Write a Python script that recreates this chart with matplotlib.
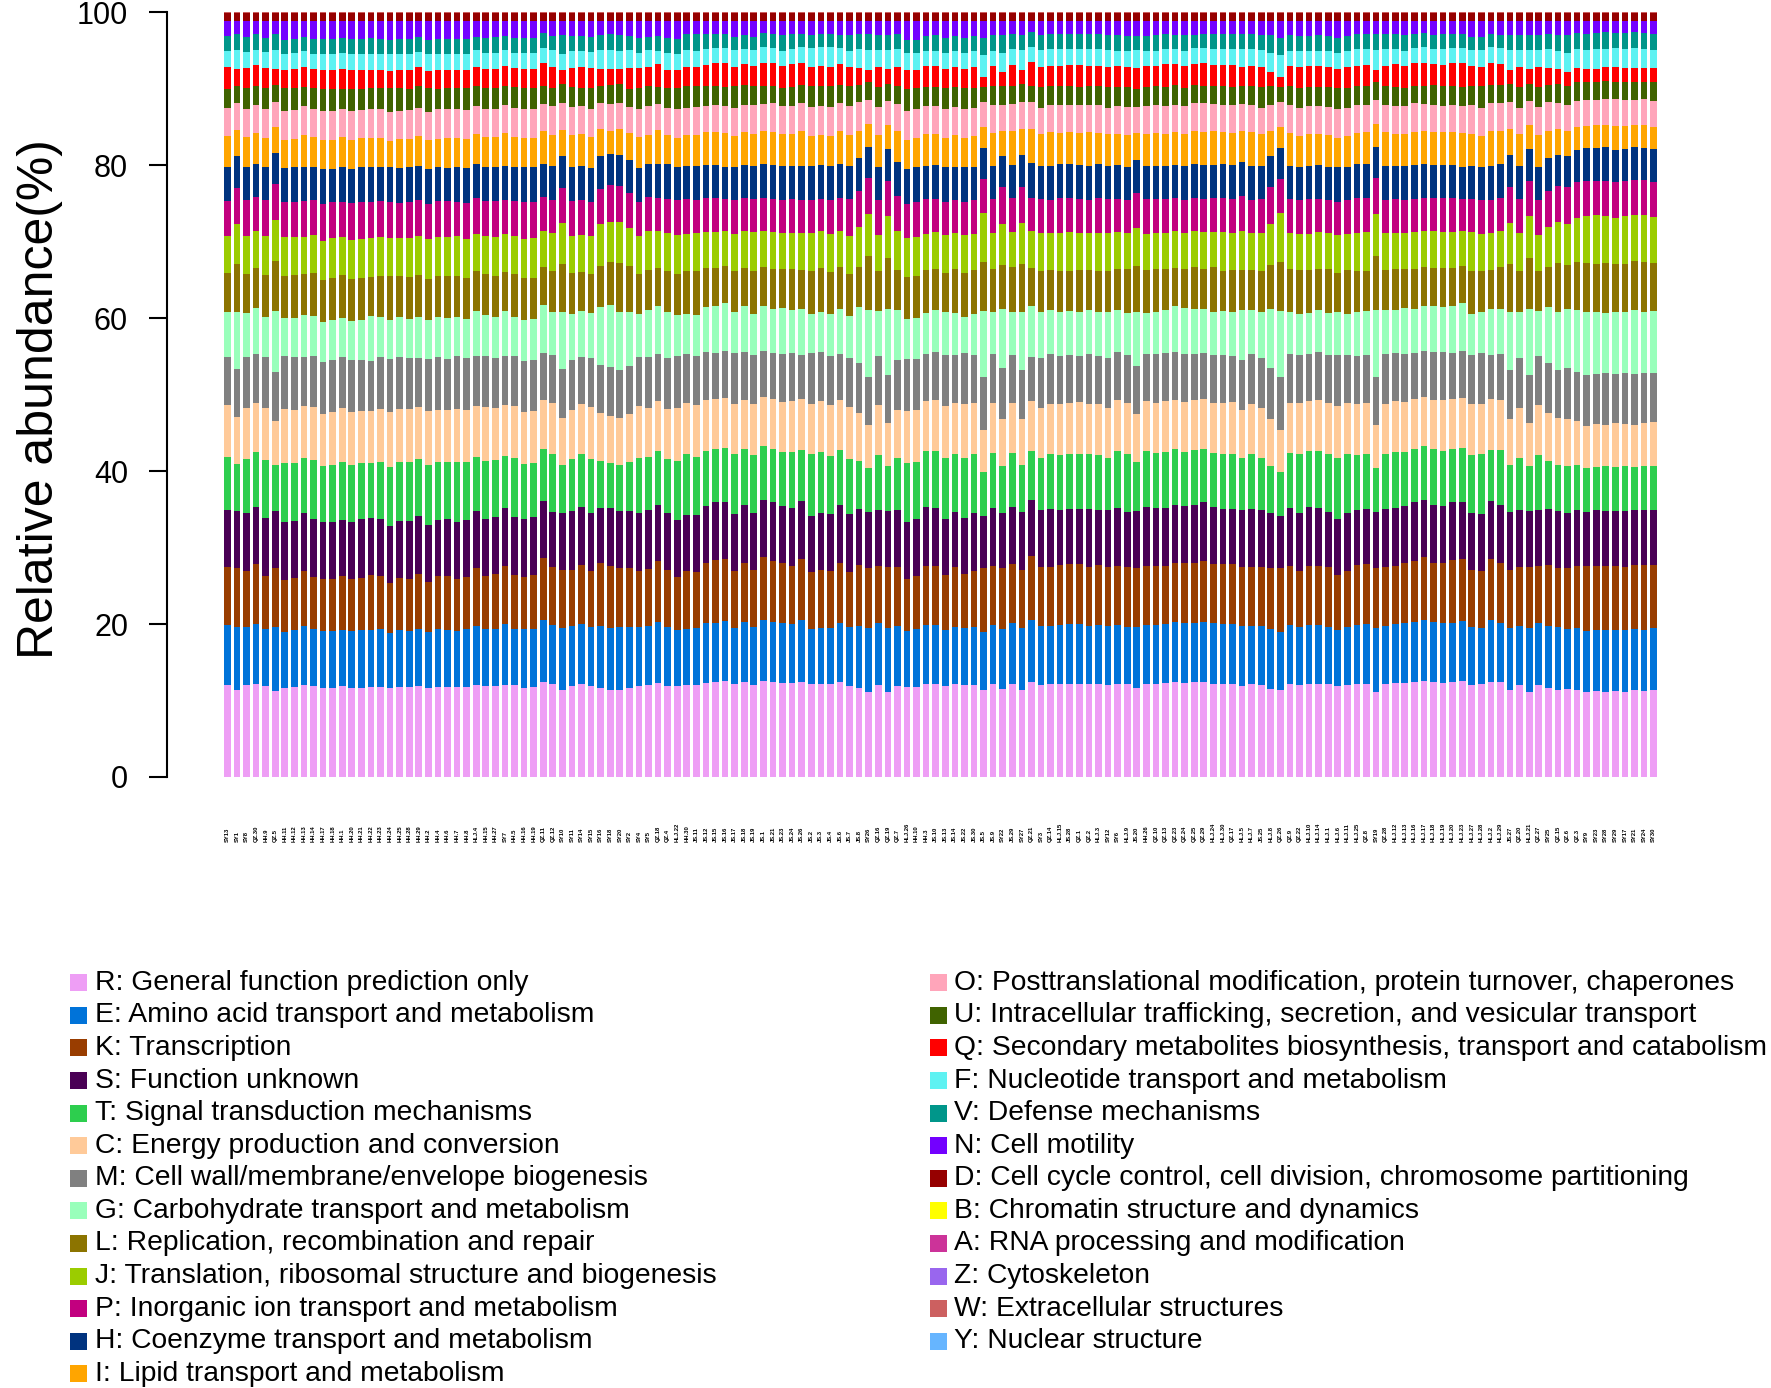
import numpy as np
import matplotlib
matplotlib.use("Agg")
import matplotlib.pyplot as plt
from matplotlib.patches import Rectangle

plt.rcParams["font.family"] = ["Liberation Sans", "DejaVu Sans"]

W, H = 1771, 1388

samples = [
    "SY13", "SY1", "SY8", "QZ.30", "HH.9", "QZ.5", "HH.11", "HH.12", "HH.13", "HH.14",
    "HH.17", "HH.18", "HH.1", "HH.20", "HH.21", "HH.22", "HH.23", "HH.24", "HH.25", "HH.28",
    "HH.29", "HH.2", "HH.4", "HH.6", "HH.7", "HH.8", "HLJ.4", "HH.15", "HH.27", "SY7",
    "HH.5", "HH.16", "HH.19", "QZ.11", "QZ.12", "SY10", "SY11", "SY14", "SY15", "SY16",
    "SY18", "SY20", "SY2", "SY4", "SY5", "QZ.18", "QZ.4", "HLJ.22", "HH.30", "JS.11",
    "JS.12", "JS.15", "JS.16", "JS.17", "JS.18", "JS.19", "JS.1", "JS.21", "JS.23", "JS.24",
    "JS.26", "JS.2", "JS.3", "JS.4", "JS.6", "JS.7", "JS.8", "SY26", "QZ.16", "QZ.19",
    "QZ.7", "HLJ.26", "HH.10", "HH.3", "JS.10", "JS.13", "JS.14", "JS.22", "JS.30", "JS.5",
    "JS.9", "SY22", "JS.29", "SY27", "QZ.21", "SY3", "QZ.14", "HLJ.15", "JS.28", "QZ.1",
    "QZ.2", "HLJ.3", "SY12", "SY6", "HLJ.9", "JS.20", "HH.26", "QZ.10", "QZ.13", "QZ.23",
    "QZ.24", "QZ.25", "QZ.29", "HLJ.24", "HLJ.30", "QZ.17", "HLJ.5", "HLJ.7", "JS.25", "HLJ.8",
    "QZ.26", "QZ.9", "QZ.22", "HLJ.10", "HLJ.14", "HLJ.1", "HLJ.6", "HLJ.11", "HLJ.25", "QZ.8",
    "SY19", "QZ.28", "HLJ.12", "HLJ.13", "HLJ.16", "HLJ.17", "HLJ.18", "HLJ.19", "HLJ.20", "HLJ.23",
    "HLJ.27", "HLJ.28", "HLJ.2", "HLJ.29", "JS.27", "QZ.20", "HLJ.21", "QZ.27", "SY25", "QZ.15",
    "QZ.6", "QZ.3", "SY9", "SY23", "SY28", "SY29", "SY17", "SY21", "SY24", "SY30",
]

# relative abundance (%) of each COG category, one value per sample
R = [12.1, 11.4, 12.0, 12.2, 11.9, 11.3, 11.7, 11.8, 12.0, 11.9, 11.6, 11.7, 11.9, 11.7, 11.7, 11.8, 11.8, 11.7, 11.8, 11.8,
     11.9, 11.6, 11.8, 11.8, 11.8, 11.8, 12.0, 11.9, 11.9, 12.1, 12.0, 11.7, 11.8, 12.4, 12.1, 11.4, 11.9, 12.1, 11.9, 11.7,
     11.4, 11.4, 11.7, 11.9, 12.0, 12.3, 11.9, 11.9, 12.1, 12.0, 12.3, 12.4, 12.6, 12.2, 12.4, 12.1, 12.6, 12.4, 12.3, 12.3,
     12.4, 12.1, 12.2, 12.1, 12.4, 11.9, 11.7, 11.1, 12.1, 11.2, 11.9, 11.8, 11.8, 12.2, 12.2, 11.9, 12.1, 12.1, 12.1, 11.4,
     12.2, 11.5, 12.2, 11.4, 12.4, 12.0, 12.2, 12.2, 12.1, 12.1, 12.2, 12.2, 12.0, 12.2, 12.1, 11.7, 12.2, 12.2, 12.3, 12.4,
     12.3, 12.4, 12.4, 12.2, 12.1, 12.1, 11.9, 12.2, 12.0, 11.5, 11.4, 12.2, 12.1, 12.2, 12.2, 12.1, 11.9, 12.1, 12.2, 12.1,
     11.1, 12.2, 12.3, 12.3, 12.4, 12.6, 12.4, 12.3, 12.4, 12.6, 12.1, 12.2, 12.4, 12.4, 11.4, 12.0, 11.2, 12.1, 11.7, 11.4,
     11.5, 11.4, 11.2, 11.3, 11.1, 11.3, 11.2, 11.4, 11.3, 11.4]
E = [7.8, 8.2, 7.6, 7.8, 7.4, 8.3, 7.3, 7.5, 7.7, 7.4, 7.5, 7.4, 7.4, 7.4, 7.6, 7.5, 7.5, 7.1, 7.5, 7.3,
     7.5, 7.4, 7.5, 7.4, 7.3, 7.5, 7.8, 7.4, 7.5, 8.0, 7.3, 7.6, 7.6, 8.1, 7.8, 8.1, 7.8, 7.9, 7.7, 8.1,
     8.1, 8.2, 8.0, 7.7, 7.7, 7.9, 7.7, 7.3, 7.3, 7.5, 7.8, 7.8, 7.8, 7.3, 7.8, 7.5, 7.9, 7.9, 7.8, 7.8,
     8.2, 7.3, 7.3, 7.4, 7.7, 7.7, 8.0, 8.4, 8.1, 8.3, 7.8, 7.3, 7.5, 7.6, 7.7, 7.4, 7.5, 7.5, 7.5, 7.5,
     7.6, 7.9, 7.9, 8.1, 8.2, 7.8, 7.6, 7.7, 7.9, 7.9, 7.6, 7.7, 7.8, 7.7, 7.5, 8.0, 7.6, 7.6, 7.8, 7.8,
     7.8, 7.7, 7.9, 7.9, 7.9, 7.9, 7.8, 7.6, 7.8, 7.9, 7.5, 7.6, 7.5, 7.6, 7.7, 7.5, 7.4, 7.5, 7.7, 7.9,
     8.4, 7.6, 7.8, 7.8, 7.9, 7.9, 7.8, 7.8, 7.8, 7.8, 7.5, 7.3, 8.2, 7.7, 8.1, 7.8, 8.3, 8.1, 8.0, 8.2,
     7.9, 8.1, 8.0, 7.9, 8.1, 7.9, 8.1, 8.0, 8.0, 8.1]
K = [7.6, 7.7, 7.4, 7.8, 7.0, 7.8, 6.8, 6.8, 7.2, 6.9, 6.8, 6.8, 7.0, 6.8, 6.8, 7.1, 6.9, 6.6, 6.8, 6.8,
     7.2, 6.5, 6.9, 7.0, 6.8, 6.8, 7.6, 6.9, 7.1, 7.6, 7.1, 6.8, 7.0, 8.1, 7.5, 7.6, 7.4, 7.7, 7.3, 8.2,
     8.2, 7.7, 7.7, 7.4, 7.5, 8.0, 7.5, 7.0, 7.5, 7.3, 7.8, 8.2, 8.1, 7.4, 7.8, 7.5, 8.3, 8.0, 7.8, 7.6,
     8.0, 7.4, 7.5, 7.4, 7.9, 7.2, 8.0, 7.9, 7.4, 8.1, 7.8, 6.8, 6.9, 7.8, 7.7, 7.1, 7.8, 7.1, 7.4, 8.4,
     7.8, 7.9, 7.8, 7.6, 8.4, 7.7, 7.7, 7.8, 7.8, 7.8, 7.7, 7.8, 7.7, 7.7, 7.8, 7.7, 7.8, 7.8, 7.6, 7.8,
     7.8, 7.9, 8.0, 7.8, 7.8, 7.8, 7.8, 7.7, 7.7, 7.9, 8.4, 7.8, 7.4, 7.8, 7.7, 7.8, 7.1, 7.4, 7.8, 7.8,
     7.9, 7.7, 7.6, 7.8, 8.0, 8.3, 7.8, 7.8, 8.2, 8.1, 7.5, 7.4, 8.0, 7.9, 7.6, 7.7, 8.1, 7.4, 8.0, 7.7,
     7.9, 8.2, 8.5, 8.4, 8.5, 8.4, 8.3, 8.4, 8.5, 8.3]
S = [7.5, 7.5, 7.5, 7.5, 7.6, 7.5, 7.6, 7.5, 7.6, 7.5, 7.5, 7.5, 7.4, 7.5, 7.7, 7.5, 7.5, 7.4, 7.5, 7.5,
     7.5, 7.5, 7.4, 7.5, 7.5, 7.5, 7.5, 7.5, 7.5, 7.5, 7.6, 7.7, 7.6, 7.5, 7.3, 7.4, 7.6, 7.6, 7.7, 7.3,
     7.5, 7.4, 7.5, 7.5, 7.7, 7.3, 7.5, 7.4, 7.4, 7.5, 7.5, 7.5, 7.5, 7.5, 7.5, 7.5, 7.5, 7.6, 7.5, 7.5,
     7.6, 7.3, 7.4, 7.5, 7.5, 7.6, 7.3, 7.3, 7.4, 7.3, 7.4, 7.5, 7.5, 7.6, 7.6, 7.4, 7.3, 7.4, 7.5, 6.8,
     7.5, 7.2, 7.5, 7.5, 7.3, 7.4, 7.5, 7.3, 7.3, 7.2, 7.5, 7.3, 7.4, 7.6, 7.3, 7.5, 7.6, 7.5, 7.5, 7.5,
     7.5, 7.5, 7.6, 7.5, 7.3, 7.2, 7.4, 7.5, 7.4, 7.2, 6.8, 7.5, 7.5, 7.6, 7.6, 7.3, 7.4, 7.5, 7.3, 7.3,
     7.3, 7.5, 7.5, 7.5, 7.6, 7.5, 7.5, 7.5, 7.5, 7.5, 7.5, 7.5, 7.6, 7.5, 7.5, 7.4, 7.3, 7.4, 7.3, 7.4,
     7.2, 7.3, 7.1, 7.3, 7.2, 7.2, 7.3, 7.1, 7.2, 7.2]
T = [6.9, 6.2, 7.1, 7.1, 7.5, 6.0, 7.8, 7.5, 7.2, 7.8, 7.3, 7.5, 7.6, 7.5, 7.3, 7.2, 7.5, 7.8, 7.7, 7.7,
     7.5, 7.8, 7.5, 7.5, 7.8, 7.5, 7.0, 7.6, 7.4, 6.8, 7.7, 7.1, 7.1, 6.8, 7.5, 6.3, 6.8, 6.9, 7.0, 6.1,
     6.0, 6.1, 6.4, 7.2, 7.0, 7.0, 7.0, 7.7, 8.0, 7.6, 7.2, 7.0, 7.1, 7.8, 7.3, 7.6, 7.0, 7.0, 7.1, 7.4,
     6.7, 8.1, 8.0, 7.6, 7.2, 7.2, 6.3, 5.8, 7.2, 5.9, 6.8, 7.7, 7.5, 7.4, 7.4, 7.9, 7.5, 7.8, 7.8, 5.8,
     7.2, 6.2, 7.0, 6.2, 6.4, 6.9, 7.3, 7.2, 7.2, 7.1, 7.3, 7.2, 6.9, 7.4, 7.5, 6.4, 7.4, 7.2, 7.4, 7.3,
     7.1, 7.2, 7.0, 7.0, 7.2, 7.1, 6.8, 7.3, 6.9, 6.2, 5.8, 7.2, 7.8, 7.4, 7.4, 7.5, 7.9, 7.8, 7.2, 7.2,
     5.8, 7.3, 7.4, 7.1, 7.0, 7.0, 7.3, 7.2, 7.0, 7.1, 7.6, 7.8, 6.7, 7.2, 6.2, 6.9, 5.9, 7.2, 6.3, 6.1,
     6.2, 5.9, 5.8, 5.7, 5.8, 5.8, 5.9, 5.7, 5.8, 5.8]
C = [6.8, 6.1, 6.7, 6.4, 6.8, 5.8, 7.0, 7.0, 6.7, 6.9, 6.8, 6.9, 7.0, 6.9, 6.8, 6.8, 6.9, 7.1, 7.0, 7.0,
     6.8, 7.1, 6.9, 6.8, 7.0, 6.9, 6.7, 7.0, 6.8, 6.7, 6.8, 6.8, 6.7, 6.5, 6.7, 6.1, 6.5, 6.5, 6.8, 6.3,
     6.1, 6.1, 6.2, 6.8, 6.4, 6.6, 6.6, 6.9, 6.6, 6.7, 6.6, 6.5, 6.5, 6.6, 6.5, 6.6, 6.5, 6.5, 6.5, 6.6,
     6.7, 6.6, 6.7, 6.6, 6.6, 6.8, 6.3, 5.6, 6.5, 5.7, 6.4, 6.9, 6.8, 6.5, 6.7, 6.8, 6.7, 7.1, 6.6, 5.5,
     6.6, 6.1, 6.5, 6.0, 6.5, 6.5, 6.5, 6.6, 6.6, 6.8, 6.5, 6.6, 6.5, 6.7, 6.7, 6.2, 6.5, 6.6, 6.6, 6.5,
     6.5, 6.6, 6.5, 6.5, 6.6, 6.8, 6.4, 6.5, 6.5, 6.1, 5.5, 6.6, 6.6, 6.5, 6.7, 6.7, 6.8, 6.6, 6.6, 6.6,
     5.6, 6.5, 6.6, 6.5, 6.5, 6.5, 6.5, 6.6, 6.5, 6.5, 6.6, 6.6, 6.7, 6.6, 6.0, 6.5, 5.7, 6.5, 6.3, 6.1,
     6.1, 5.8, 5.5, 5.6, 5.4, 5.7, 5.6, 5.5, 5.6, 5.7]
M = [6.3, 6.3, 6.6, 6.4, 6.7, 6.3, 6.9, 6.9, 6.5, 6.7, 6.8, 6.8, 6.7, 6.8, 6.7, 6.6, 6.8, 7.0, 6.8, 6.6,
     6.4, 6.8, 6.8, 6.6, 6.9, 6.7, 6.5, 6.7, 6.6, 6.4, 6.5, 6.7, 6.7, 6.1, 6.3, 6.4, 6.5, 6.2, 6.5, 6.3,
     6.4, 6.3, 6.4, 6.4, 6.6, 6.1, 6.7, 6.8, 6.5, 6.4, 6.3, 6.1, 6.2, 6.6, 6.2, 6.4, 5.9, 6.0, 6.2, 6.3,
     5.8, 6.6, 6.4, 6.5, 6.0, 6.5, 6.6, 6.3, 6.4, 6.3, 6.5, 6.8, 6.6, 6.1, 6.2, 6.7, 6.3, 6.7, 6.4, 6.9,
     6.4, 6.7, 6.3, 6.4, 5.8, 6.5, 6.5, 6.3, 6.3, 6.1, 6.5, 6.3, 6.5, 6.2, 6.3, 6.4, 6.1, 6.4, 6.3, 6.2,
     6.2, 6.0, 6.0, 6.3, 6.3, 6.1, 6.5, 6.5, 6.5, 6.7, 6.9, 6.4, 6.4, 6.1, 6.2, 6.3, 6.7, 6.4, 6.3, 6.3,
     6.3, 6.5, 6.3, 6.2, 6.0, 5.9, 6.2, 6.3, 6.1, 6.2, 6.4, 6.6, 5.8, 6.0, 6.4, 6.5, 6.3, 6.4, 6.6, 6.3,
     6.7, 6.4, 6.7, 6.6, 6.8, 6.5, 6.6, 6.7, 6.6, 6.5]
G = [5.9, 7.5, 5.8, 6.0, 5.2, 8.1, 5.0, 5.1, 5.4, 5.2, 5.2, 5.2, 5.2, 5.2, 5.3, 5.8, 5.2, 5.0, 5.2, 5.1,
     5.4, 5.0, 5.3, 5.4, 5.1, 5.1, 6.0, 5.3, 5.3, 6.0, 5.1, 5.4, 5.4, 6.3, 5.6, 7.5, 6.0, 6.0, 5.8, 7.6,
     8.2, 7.6, 7.0, 5.6, 6.2, 6.3, 6.0, 5.4, 5.2, 5.4, 5.9, 6.1, 6.2, 5.4, 6.0, 5.4, 5.9, 5.8, 6.1, 5.7,
     6.0, 5.1, 5.2, 5.4, 5.8, 5.5, 7.2, 8.8, 5.9, 8.6, 6.5, 5.2, 5.3, 5.4, 5.5, 5.7, 5.5, 4.8, 5.3, 8.6,
     5.5, 7.8, 5.6, 7.6, 6.7, 6.1, 5.8, 5.7, 5.7, 5.7, 5.8, 5.7, 6.1, 5.5, 5.5, 7.0, 5.4, 5.5, 5.7, 6.0,
     6.1, 5.8, 5.8, 5.6, 5.7, 5.7, 6.5, 5.8, 6.1, 7.8, 8.6, 5.5, 5.3, 5.4, 5.5, 5.5, 5.7, 5.3, 5.7, 5.7,
     8.8, 5.8, 5.7, 6.1, 5.8, 5.9, 6.0, 5.9, 6.1, 6.2, 5.4, 5.4, 6.0, 5.8, 7.6, 6.1, 8.6, 5.9, 7.2, 7.6,
     7.8, 8.1, 8.2, 8.0, 7.9, 8.1, 8.0, 8.3, 8.0, 8.1]
L = [5.1, 6.3, 5.1, 5.2, 5.6, 6.5, 5.5, 5.7, 5.4, 5.6, 5.5, 5.5, 5.6, 5.5, 5.5, 5.1, 5.4, 5.8, 5.4, 5.5,
     5.5, 5.4, 5.4, 5.5, 5.4, 5.4, 5.2, 5.4, 5.4, 5.1, 5.6, 5.4, 5.4, 5.0, 5.4, 6.3, 5.3, 5.1, 5.1, 5.4,
     5.6, 6.3, 6.1, 5.3, 5.2, 4.9, 5.4, 5.4, 5.6, 5.8, 5.1, 5.0, 4.9, 5.4, 5.0, 5.6, 5.2, 5.2, 5.1, 5.4,
     5.1, 5.7, 5.7, 5.5, 5.5, 5.4, 5.3, 7.0, 5.2, 6.8, 5.3, 5.5, 5.5, 5.6, 5.4, 5.1, 5.7, 5.7, 5.8, 6.5,
     5.5, 5.7, 5.9, 6.3, 5.0, 5.3, 5.2, 5.4, 5.3, 5.4, 5.2, 5.4, 5.3, 5.4, 5.7, 6.1, 5.6, 5.5, 5.4, 5.0,
     5.1, 5.5, 5.2, 5.9, 5.3, 5.4, 5.3, 5.2, 5.3, 5.7, 6.5, 5.5, 5.8, 5.6, 5.4, 5.7, 5.1, 5.8, 5.4, 5.3,
     7.0, 5.2, 5.4, 5.1, 5.2, 5.2, 5.0, 5.1, 5.0, 4.9, 5.6, 5.4, 5.1, 5.5, 6.3, 5.3, 6.8, 5.2, 5.3, 6.3,
     5.7, 6.3, 6.5, 6.4, 6.6, 6.3, 6.4, 6.4, 6.5, 6.3]
J = [4.9, 5.2, 5.0, 4.8, 5.1, 5.4, 5.1, 4.9, 4.9, 5.0, 5.2, 5.2, 5.0, 5.1, 5.1, 5.1, 5.1, 5.0, 5.0, 5.1,
     5.0, 5.2, 5.1, 5.1, 5.2, 5.1, 4.9, 5.0, 5.1, 4.9, 5.0, 5.2, 5.2, 4.7, 4.9, 5.3, 4.9, 4.8, 5.0, 5.4,
     5.2, 5.4, 4.9, 4.9, 5.1, 4.8, 5.0, 5.1, 4.9, 4.9, 4.7, 4.7, 4.6, 4.8, 4.8, 5.1, 4.7, 4.8, 4.7, 4.7,
     4.8, 4.9, 4.8, 5.0, 4.7, 5.0, 5.2, 5.6, 4.8, 5.4, 5.1, 5.1, 5.1, 4.7, 4.8, 4.9, 4.7, 5.0, 4.7, 6.4,
     4.8, 5.4, 4.7, 5.4, 4.8, 5.0, 4.8, 5.0, 5.1, 4.9, 4.8, 5.0, 5.0, 4.8, 4.7, 4.9, 4.7, 4.8, 4.7, 4.8,
     4.7, 4.7, 4.8, 4.7, 5.1, 4.9, 5.1, 4.8, 5.0, 5.4, 6.4, 4.8, 4.7, 4.7, 4.8, 4.7, 4.9, 4.7, 5.0, 5.1,
     5.6, 4.8, 4.7, 4.7, 4.8, 4.7, 4.8, 4.7, 4.7, 4.6, 5.1, 4.8, 4.8, 4.7, 5.4, 5.0, 5.4, 4.8, 5.2, 5.4,
     5.4, 5.8, 6.2, 6.3, 6.1, 6.0, 6.2, 6.1, 6.2, 6.0]
P = [4.6, 4.7, 4.6, 4.5, 4.6, 4.7, 4.6, 4.6, 4.7, 4.5, 4.8, 4.7, 4.5, 4.8, 4.8, 4.7, 4.6, 4.7, 4.6, 4.7,
     4.8, 4.6, 4.6, 4.6, 4.5, 4.7, 4.6, 4.5, 4.7, 4.5, 4.5, 4.8, 4.7, 4.4, 4.4, 4.6, 4.6, 4.6, 4.5, 4.6,
     4.8, 4.7, 4.6, 4.5, 4.4, 4.4, 4.4, 4.5, 4.5, 4.4, 4.4, 4.4, 4.2, 4.4, 4.3, 4.3, 4.3, 4.4, 4.3, 4.4,
     4.4, 4.4, 4.2, 4.5, 4.4, 4.8, 4.7, 4.7, 4.5, 4.7, 4.6, 4.5, 4.6, 4.5, 4.3, 4.4, 4.3, 4.4, 4.4, 4.4,
     4.4, 4.8, 4.4, 4.7, 4.4, 4.4, 4.4, 4.6, 4.4, 4.4, 4.4, 4.6, 4.4, 4.3, 4.3, 4.6, 4.5, 4.4, 4.4, 4.3,
     4.3, 4.4, 4.4, 4.4, 4.4, 4.4, 4.6, 4.4, 4.4, 4.8, 4.4, 4.4, 4.4, 4.5, 4.3, 4.3, 4.4, 4.4, 4.6, 4.4,
     4.7, 4.4, 4.4, 4.3, 4.4, 4.3, 4.3, 4.4, 4.4, 4.2, 4.3, 4.4, 4.4, 4.4, 4.7, 4.4, 4.7, 4.5, 4.7, 4.7,
     4.8, 4.7, 4.6, 4.5, 4.6, 4.7, 4.6, 4.5, 4.6, 4.6]
Hc = [4.4, 4.2, 4.3, 4.3, 4.4, 4.1, 4.5, 4.6, 4.4, 4.4, 4.6, 4.4, 4.6, 4.5, 4.6, 4.6, 4.5, 4.5, 4.6, 4.6,
      4.4, 4.6, 4.5, 4.4, 4.5, 4.5, 4.5, 4.5, 4.5, 4.4, 4.5, 4.5, 4.5, 4.3, 4.4, 4.2, 4.4, 4.4, 4.4, 4.3,
      4.1, 4.0, 4.3, 4.4, 4.3, 4.4, 4.6, 4.4, 4.4, 4.4, 4.4, 4.3, 4.2, 4.4, 4.4, 4.4, 4.4, 4.4, 4.4, 4.4,
      4.4, 4.4, 4.5, 4.4, 4.4, 4.4, 4.3, 4.0, 4.4, 4.1, 4.4, 4.6, 4.6, 4.4, 4.4, 4.5, 4.4, 4.5, 4.4, 4.1,
      4.3, 4.1, 4.3, 4.1, 4.6, 4.4, 4.4, 4.4, 4.4, 4.5, 4.4, 4.4, 4.4, 4.4, 4.4, 4.3, 4.4, 4.3, 4.4, 4.4,
      4.4, 4.4, 4.4, 4.3, 4.4, 4.5, 4.4, 4.4, 4.4, 4.1, 4.1, 4.3, 4.4, 4.4, 4.4, 4.4, 4.5, 4.4, 4.4, 4.4,
      4.0, 4.4, 4.4, 4.4, 4.4, 4.4, 4.4, 4.4, 4.3, 4.2, 4.4, 4.4, 4.4, 4.4, 4.1, 4.4, 4.1, 4.4, 4.3, 4.0,
      4.1, 4.2, 4.3, 4.3, 4.4, 4.2, 4.3, 4.3, 4.2, 4.3]
I = [4.1, 3.4, 4.0, 4.1, 3.8, 3.3, 3.7, 3.7, 4.1, 3.9, 3.8, 3.8, 3.9, 3.8, 3.8, 3.9, 3.8, 3.5, 3.8, 3.7,
     3.9, 3.8, 3.7, 3.9, 3.8, 3.9, 4.0, 3.9, 3.9, 4.4, 3.9, 3.9, 3.9, 4.4, 4.1, 3.4, 4.1, 4.2, 4.1, 3.6,
     3.1, 3.5, 3.6, 4.1, 3.9, 4.4, 3.8, 3.8, 4.0, 4.0, 4.2, 4.4, 4.4, 4.0, 4.2, 4.1, 4.4, 4.4, 4.2, 4.2,
     4.6, 3.9, 3.9, 3.9, 4.3, 4.0, 3.6, 3.0, 4.1, 3.2, 4.0, 3.8, 3.8, 4.1, 4.1, 3.9, 4.1, 3.9, 4.0, 2.7,
     4.3, 3.2, 4.4, 3.4, 4.4, 4.1, 4.4, 4.1, 4.2, 4.1, 4.4, 4.1, 4.1, 4.1, 4.1, 3.6, 4.1, 4.3, 4.2, 4.2,
     4.2, 4.3, 4.4, 4.4, 4.2, 4.1, 4.0, 4.4, 4.1, 3.2, 2.7, 4.3, 4.0, 4.1, 4.1, 4.1, 3.9, 4.0, 4.1, 4.2,
     3.0, 4.4, 4.2, 4.2, 4.4, 4.4, 4.2, 4.2, 4.4, 4.4, 4.1, 4.0, 4.6, 4.3, 3.4, 4.1, 3.2, 4.1, 3.6, 3.5,
     3.2, 3.1, 2.9, 3.0, 2.9, 3.1, 3.0, 2.9, 3.0, 3.0]
O = [3.7, 3.5, 3.7, 3.6, 3.8, 3.3, 3.8, 3.8, 3.8, 3.7, 3.8, 3.8, 3.7, 3.7, 3.7, 3.7, 3.8, 3.8, 3.6, 3.7,
     3.7, 3.7, 3.8, 3.8, 3.8, 3.7, 3.6, 3.7, 3.7, 3.6, 3.8, 3.8, 3.8, 3.5, 3.7, 3.5, 3.7, 3.6, 3.7, 3.4,
     3.5, 3.4, 3.4, 3.7, 3.7, 3.4, 3.5, 3.7, 3.6, 3.7, 3.5, 3.5, 3.5, 3.7, 3.6, 3.8, 3.5, 3.7, 3.7, 3.6,
     3.7, 3.8, 3.8, 3.8, 3.6, 3.8, 3.7, 3.2, 3.7, 3.1, 3.6, 3.8, 3.8, 3.6, 3.6, 3.8, 3.7, 3.8, 3.7, 3.2,
     3.7, 3.4, 3.6, 3.6, 3.5, 3.5, 3.6, 3.6, 3.6, 3.7, 3.6, 3.6, 3.5, 3.6, 3.7, 3.4, 3.6, 3.7, 3.6, 3.6,
     3.7, 3.6, 3.7, 3.6, 3.6, 3.7, 3.6, 3.6, 3.5, 3.4, 3.2, 3.7, 3.7, 3.6, 3.6, 3.7, 3.8, 3.7, 3.6, 3.6,
     3.2, 3.6, 3.6, 3.7, 3.7, 3.5, 3.6, 3.5, 3.5, 3.5, 3.8, 3.7, 3.7, 3.6, 3.6, 3.5, 3.1, 3.7, 3.7, 3.4,
     3.4, 3.4, 3.4, 3.3, 3.4, 3.5, 3.4, 3.3, 3.4, 3.4]
U = [2.5, 2.3, 2.7, 2.5, 2.7, 2.3, 3.0, 2.9, 2.6, 2.7, 2.9, 2.9, 2.7, 3.0, 2.8, 2.8, 2.7, 3.1, 3.0, 2.8,
     2.8, 3.1, 2.7, 2.7, 2.8, 2.9, 2.6, 2.7, 2.7, 2.5, 2.7, 2.7, 2.7, 2.3, 2.4, 2.5, 2.6, 2.4, 2.7, 2.3,
     2.5, 2.4, 2.4, 2.7, 2.6, 2.3, 2.7, 2.8, 2.8, 2.7, 2.6, 2.5, 2.5, 2.8, 2.6, 2.5, 2.3, 2.2, 2.3, 2.5,
     2.3, 2.7, 2.6, 2.7, 2.4, 2.6, 2.3, 2.3, 2.6, 2.3, 2.4, 2.9, 2.7, 2.6, 2.6, 2.7, 2.6, 2.7, 2.6, 2.0,
     2.5, 2.5, 2.4, 2.3, 2.2, 2.7, 2.5, 2.5, 2.5, 2.4, 2.5, 2.5, 2.7, 2.6, 2.6, 2.4, 2.6, 2.5, 2.5, 2.6,
     2.3, 2.4, 2.2, 2.4, 2.5, 2.4, 2.4, 2.5, 2.7, 2.5, 2.0, 2.5, 2.6, 2.6, 2.6, 2.6, 2.7, 2.6, 2.5, 2.5,
     2.3, 2.5, 2.5, 2.3, 2.2, 2.3, 2.6, 2.6, 2.5, 2.5, 2.5, 2.8, 2.3, 2.4, 2.3, 2.7, 2.3, 2.6, 2.3, 2.4,
     2.5, 2.4, 2.3, 2.4, 2.4, 2.3, 2.4, 2.4, 2.3, 2.4]
Q = [2.8, 2.2, 2.6, 2.7, 2.6, 2.0, 2.3, 2.5, 2.6, 2.5, 2.5, 2.5, 2.5, 2.4, 2.4, 2.4, 2.3, 2.2, 2.4, 2.4,
     2.5, 2.2, 2.5, 2.4, 2.4, 2.4, 2.5, 2.5, 2.5, 2.7, 2.5, 2.5, 2.5, 3.0, 2.8, 1.9, 2.5, 2.8, 2.6, 2.2,
     2.1, 2.0, 2.7, 2.6, 2.6, 2.9, 2.3, 2.4, 2.5, 2.5, 2.7, 2.9, 3.1, 2.5, 2.7, 2.6, 3.1, 3.0, 2.9, 3.0,
     2.9, 2.5, 2.6, 2.5, 2.8, 2.5, 2.2, 1.6, 2.6, 1.9, 2.4, 2.4, 2.4, 2.7, 2.7, 2.5, 2.7, 2.6, 2.7, 1.3,
     2.6, 1.9, 2.7, 1.9, 3.1, 2.6, 2.6, 2.7, 2.7, 2.8, 2.6, 2.7, 2.6, 2.7, 2.7, 2.7, 2.7, 2.6, 3.0, 2.7,
     2.9, 2.8, 3.0, 2.7, 2.7, 2.8, 2.4, 2.6, 2.6, 1.9, 1.3, 2.6, 2.7, 2.7, 2.7, 2.7, 2.5, 2.7, 2.7, 2.7,
     1.6, 2.6, 3.0, 2.9, 3.0, 3.1, 2.7, 2.7, 2.9, 3.1, 2.6, 2.5, 2.9, 2.8, 1.9, 2.6, 1.9, 2.6, 2.2, 2.0,
     1.9, 1.9, 1.8, 1.7, 1.8, 1.9, 1.8, 1.8, 1.8, 1.9]
F = [2.1, 2.4, 2.1, 2.0, 2.1, 2.5, 2.1, 2.0, 2.1, 2.0, 2.0, 2.0, 2.2, 2.1, 2.1, 2.1, 2.1, 2.2, 2.1, 2.1,
     2.0, 2.2, 2.1, 2.1, 2.1, 2.1, 2.2, 2.1, 2.1, 2.0, 2.0, 2.1, 2.1, 2.0, 2.1, 2.1, 2.2, 2.1, 2.1, 2.4,
     2.4, 2.4, 2.3, 2.0, 2.1, 1.7, 2.2, 2.0, 2.3, 2.1, 2.1, 2.0, 2.0, 2.2, 2.0, 2.1, 2.0, 2.0, 2.0, 2.0,
     2.2, 2.5, 2.5, 2.7, 2.0, 2.1, 2.5, 2.6, 2.2, 2.5, 2.4, 2.2, 2.2, 2.0, 2.0, 2.1, 2.0, 2.1, 2.1, 2.9,
     2.0, 2.5, 2.1, 2.5, 2.0, 2.2, 2.2, 2.2, 2.1, 2.1, 2.2, 2.2, 2.2, 2.0, 2.0, 2.3, 2.0, 2.0, 2.0, 2.0,
     2.0, 2.0, 2.0, 2.1, 2.1, 2.1, 2.4, 2.2, 2.2, 2.5, 2.9, 2.0, 2.1, 2.0, 2.0, 2.0, 2.1, 2.1, 2.2, 2.1,
     2.6, 2.2, 2.0, 2.0, 2.0, 2.0, 2.0, 2.1, 2.0, 2.0, 2.1, 2.2, 2.2, 2.0, 2.5, 2.2, 2.5, 2.2, 2.5, 2.4,
     2.5, 2.5, 2.5, 2.6, 2.4, 2.5, 2.5, 2.6, 2.5, 2.4]
V = [2.0, 2.1, 2.0, 2.1, 1.8, 2.2, 1.9, 1.9, 1.8, 1.9, 2.0, 2.0, 1.9, 2.0, 2.0, 2.0, 2.0, 1.9, 2.0, 2.0,
     1.9, 1.9, 1.9, 1.9, 1.9, 1.9, 1.8, 2.0, 2.0, 1.9, 1.9, 1.9, 1.9, 2.0, 1.9, 2.4, 2.0, 1.9, 1.9, 2.0,
     2.1, 2.0, 1.9, 1.9, 1.8, 2.0, 2.0, 2.0, 2.1, 2.2, 2.0, 1.9, 1.9, 1.7, 1.8, 1.8, 1.9, 1.9, 2.0, 2.0,
     1.7, 1.7, 1.7, 1.7, 1.7, 2.1, 2.0, 2.2, 2.0, 2.0, 2.0, 1.8, 1.7, 1.9, 2.0, 1.9, 2.0, 1.9, 2.0, 2.2,
     2.0, 2.3, 2.0, 2.0, 1.9, 2.0, 2.0, 2.0, 2.0, 2.0, 2.0, 2.0, 2.0, 2.0, 2.0, 1.9, 1.9, 2.0, 2.0, 1.8,
     2.0, 1.7, 1.9, 2.0, 2.0, 2.0, 2.0, 2.0, 2.0, 2.3, 2.2, 2.0, 2.0, 1.9, 2.0, 2.0, 1.9, 2.0, 2.0, 2.0,
     2.2, 2.0, 2.0, 2.0, 1.9, 1.9, 1.8, 2.0, 1.9, 1.9, 1.8, 1.7, 1.7, 1.7, 2.0, 2.0, 2.0, 2.0, 2.0, 2.0,
     2.3, 2.1, 2.1, 2.1, 2.2, 2.0, 2.1, 2.1, 2.1, 2.1]
N = [2.0, 1.8, 2.1, 1.7, 2.3, 1.7, 2.5, 2.4, 2.1, 2.4, 2.4, 2.4, 2.3, 2.4, 2.4, 2.3, 2.4, 2.5, 2.4, 2.4,
     2.2, 2.5, 2.4, 2.4, 2.4, 2.4, 2.1, 2.2, 2.2, 2.0, 2.3, 2.3, 2.3, 1.6, 2.0, 1.9, 2.0, 2.0, 2.2, 1.9,
     1.8, 1.9, 2.0, 2.3, 2.1, 2.0, 2.3, 2.4, 1.7, 1.8, 1.7, 1.7, 1.7, 2.2, 1.9, 2.1, 1.6, 1.7, 1.9, 1.7,
     1.7, 1.9, 1.7, 1.7, 1.9, 1.9, 1.7, 1.7, 1.9, 1.9, 1.7, 2.5, 2.5, 2.0, 1.9, 2.3, 2.0, 2.3, 2.0, 2.3,
     1.9, 1.9, 1.7, 1.9, 1.5, 1.9, 1.7, 1.7, 1.7, 1.7, 1.7, 1.7, 1.9, 1.9, 2.0, 2.0, 2.0, 1.9, 1.7, 1.9,
     1.9, 1.9, 1.7, 1.7, 1.7, 1.7, 1.7, 1.7, 1.9, 1.9, 2.3, 1.9, 2.0, 2.0, 1.9, 2.0, 2.3, 2.0, 1.7, 1.7,
     1.7, 1.7, 1.7, 1.9, 1.7, 1.6, 1.9, 1.7, 1.7, 1.7, 2.1, 2.2, 1.7, 1.9, 1.9, 1.9, 1.9, 1.9, 1.7, 1.9,
     1.9, 1.6, 1.7, 1.6, 1.5, 1.6, 1.6, 1.5, 1.6, 1.7]
D = [1.0] * 150
# the rare categories are too thin to see in any bar
B = [0.01] * 150
A = [0.03] * 150
Z = [0.02] * 150
Wc = [0.01] * 150
Y = [0.01] * 150

labels = [
    "R: General function prediction only",
    "E: Amino acid transport and metabolism",
    "K: Transcription",
    "S: Function unknown",
    "T: Signal transduction mechanisms",
    "C: Energy production and conversion",
    "M: Cell wall/membrane/envelope biogenesis",
    "G: Carbohydrate transport and metabolism",
    "L: Replication, recombination and repair",
    "J: Translation, ribosomal structure and biogenesis",
    "P: Inorganic ion transport and metabolism",
    "H: Coenzyme transport and metabolism",
    "I: Lipid transport and metabolism",
    "O: Posttranslational modification, protein turnover, chaperones",
    "U: Intracellular trafficking, secretion, and vesicular transport",
    "Q: Secondary metabolites biosynthesis, transport and catabolism",
    "F: Nucleotide transport and metabolism",
    "V: Defense mechanisms",
    "N: Cell motility",
    "D: Cell cycle control, cell division, chromosome partitioning",
    "B: Chromatin structure and dynamics",
    "A: RNA processing and modification",
    "Z: Cytoskeleton",
    "W: Extracellular structures",
    "Y: Nuclear structure",
]
colors = [
    "#EE9EF5", "#0073D9", "#993D00", "#4A0055", "#2DCE4E", "#FFCA99", "#808080",
    "#99FFBB", "#8C7400", "#9BCC00", "#C2007F", "#00337F", "#FFA500", "#FFA5BA",
    "#406300", "#FF0000", "#5EF2F2", "#00968A", "#7300FF", "#960000", "#FFFF00",
    "#CC3399", "#9966EE", "#CC6060", "#66B5FF",
]
series = [R, E, K, S, T, C, M, G, L, J, P, Hc, I, O, U, Q, F, V, N, D, B, A, Z, Wc, Y]

fig = plt.figure(figsize=(W / 100, H / 100), dpi=100)
ax = fig.add_axes([167 / W, 1 - 777 / H, (1714 - 167) / W, (777 - 12.4) / H])

vals = np.array(series, dtype=float)
vals = vals / vals.sum(axis=0) * 100  # relative abundance per sample
x = np.arange(len(samples))
bottom = np.zeros(len(samples))
for v, col in zip(vals, colors):
    ax.bar(x, v, width=0.7, bottom=bottom, color=col, linewidth=0)
    bottom += v

ax.set_xlim(-6.31, len(samples) - 1 + 6.31)
ax.set_ylim(0, 100)
for s in ["top", "right", "bottom"]:
    ax.spines[s].set_visible(False)
ax.spines["left"].set_linewidth(1.5)
ax.set_yticks([0, 20, 40, 60, 80, 100])
ax.tick_params(axis="y", length=13, width=1.5, pad=15, labelsize=22)
ax.set_xticks([])
for i, name in enumerate(samples):
    ax.text(i, -0.085, name, transform=ax.get_xaxis_transform(), rotation=90,
            ha="center", va="bottom", fontsize=4.2, fontweight="bold")

fig.text(40 / W, 1 - 399 / H, "Relative abundance(%)", rotation=90,
         ha="center", va="center", fontsize=36)

# legend: two columns, 13 + 12 entries
for k, (lab, col) in enumerate(zip(labels, colors)):
    if k < 13:
        sx, tx, yc = 70, 95, 982.7 + k * 32.6
    else:
        sx, tx, yc = 930, 954, 982.7 + (k - 13) * 32.6
    fig.add_artist(Rectangle((sx / W, 1 - (yc + 8.5) / H), 17 / W, 17 / H,
                             transform=fig.transFigure, facecolor=col, edgecolor="none"))
    fig.text(tx / W, 1 - yc / H, lab, ha="left", va="center", fontsize=20.3)

fig.savefig("out.png", dpi=100)
